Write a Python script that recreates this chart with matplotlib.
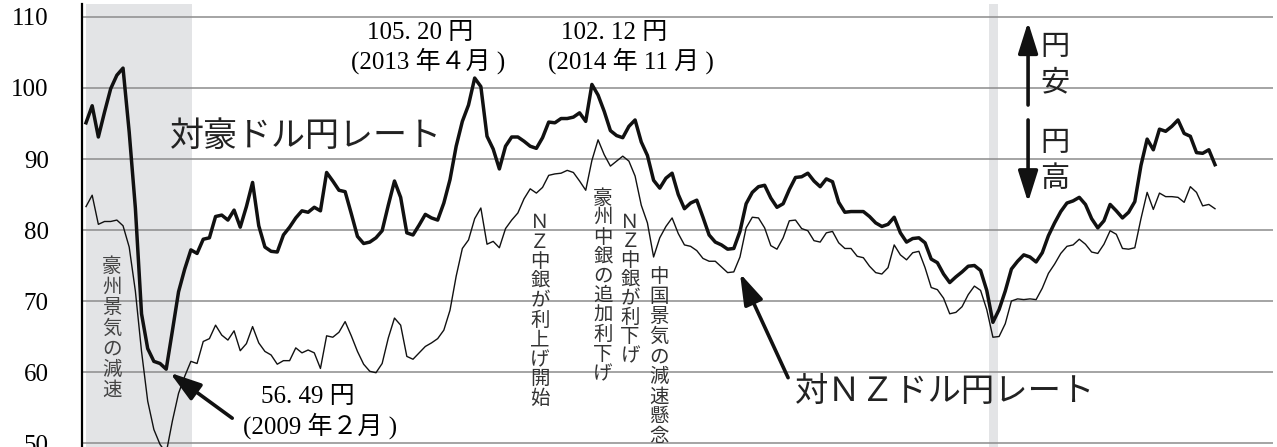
import matplotlib
matplotlib.use('Agg')
import matplotlib.pyplot as plt
from matplotlib.patches import ArrowStyle

plt.rcParams['font.family'] = ['Liberation Serif', 'Noto Sans CJK JP']

# monthly index: 0 = 2008-01 ... 183 = 2023-04
# AUD/JPY (thick line)
aud = [
    95.1, 97.5, 93.1, 96.6, 99.9, 101.8, 102.8, 93.8, 83.1, 68.2,
    63.3, 61.5, 61.2, 60.4, 65.8, 71.3, 74.5, 77.2, 76.7, 78.7,
    78.9, 81.9, 82.1, 81.4, 82.8, 80.4, 83.3, 86.7, 80.6, 77.6,
    77.0, 76.9, 79.3, 80.4, 81.7, 82.7, 82.5, 83.2, 82.7, 88.1,
    86.9, 85.6, 85.4, 82.3, 79.1, 78.1, 78.3, 78.9, 79.9, 83.5,
    86.9, 84.6, 79.6, 79.3, 80.7, 82.2, 81.7, 81.4, 83.8, 87.1,
    91.8, 95.3, 97.6, 101.4, 100.2, 93.2, 91.4, 88.6, 91.8, 93.1,
    93.1, 92.5, 91.8, 91.5, 93.0, 95.2, 95.1, 95.7, 95.7, 95.9,
    96.5, 95.3, 100.5, 99.0, 96.7, 94.0, 93.3, 93.0, 94.6, 95.5,
    92.4, 90.5, 87.0, 85.9, 87.3, 88.0, 85.0, 83.0, 83.8, 84.2,
    81.8, 79.3, 78.3, 77.9, 77.3, 77.4, 79.8, 83.7, 85.3, 86.1,
    86.3, 84.5, 83.2, 83.7, 85.7, 87.4, 87.5, 88.0, 86.9, 86.1,
    87.2, 86.8, 83.9, 82.5, 82.6, 82.6, 82.6, 81.9, 81.0, 80.5,
    80.8, 81.8, 79.6, 78.3, 78.8, 78.9, 78.2, 75.9, 75.4, 73.8,
    72.6, 73.4, 74.1, 74.9, 75.0, 74.3, 71.5, 67.0, 68.8, 71.4,
    74.5, 75.6, 76.5, 76.2, 75.5, 76.8, 79.2, 81.0, 82.6, 83.8,
    84.1, 84.6, 83.6, 81.6, 80.3, 81.3, 83.6, 82.7, 81.7, 82.5,
    84.0, 89.1, 92.8, 91.3, 94.2, 93.9, 94.6, 95.5, 93.6, 93.2,
    90.9, 90.8, 91.3, 89.2]

# NZD/JPY (thin line)
nzd = [
    83.3, 84.9, 80.8, 81.2, 81.2, 81.4, 80.6, 77.6, 71.4, 62.9,
    55.9, 51.9, 49.8, 48.6, 53.1, 57.0, 59.4, 61.5, 61.2, 64.3,
    64.7, 66.6, 65.2, 64.5, 65.8, 63.0, 64.0, 66.4, 64.1, 62.9,
    62.4, 61.1, 61.6, 61.6, 63.4, 62.7, 63.1, 62.7, 60.5, 65.1,
    64.9, 65.6, 67.1, 65.1, 62.9, 61.1, 60.1, 59.9, 61.2, 64.8,
    67.6, 66.6, 62.2, 61.8, 62.7, 63.6, 64.1, 64.7, 65.9, 68.7,
    73.5, 77.4, 78.6, 81.6, 83.1, 78.0, 78.4, 77.5, 80.2, 81.4,
    82.4, 84.4, 85.8, 85.2, 86.0, 87.7, 87.9, 88.0, 88.4, 88.1,
    86.9, 85.6, 89.8, 92.7, 90.6, 89.0, 89.7, 90.4, 89.7, 87.6,
    83.5, 81.0, 76.2, 78.9, 80.5, 81.7, 79.5, 77.9, 77.7, 77.1,
    76.0, 75.6, 75.6, 74.8, 74.0, 74.1, 76.2, 80.3, 81.8, 81.7,
    80.3, 77.8, 77.3, 78.9, 81.3, 81.4, 80.2, 79.9, 78.5, 78.3,
    79.6, 79.8, 78.2, 77.4, 77.4, 76.3, 76.1, 74.9, 74.0, 73.8,
    74.7, 77.9, 76.5, 75.8, 76.8, 77.0, 74.7, 71.9, 71.6, 70.4,
    68.2, 68.4, 69.2, 70.9, 72.1, 71.5, 68.8, 64.9, 65.0, 66.8,
    70.0, 70.3, 70.2, 70.3, 70.2, 71.8, 73.9, 75.2, 76.7, 77.7,
    77.9, 78.7, 78.0, 76.9, 76.7, 78.0, 79.9, 79.4, 77.4, 77.3,
    77.5, 81.6, 85.3, 82.9, 85.2, 84.7, 84.7, 84.6, 83.9, 86.1,
    85.3, 83.4, 83.6, 83.0]

months = list(range(len(aud)))
yticks = [50, 60, 70, 80, 90, 100, 110]

# shaded periods (month index)
shades = [(0, 17.2), (146.3, 147.9)]

jp = ['Noto Sans CJK JP']
serif = ['Liberation Serif', 'Noto Sans CJK JP']

fig = plt.figure(figsize=(12.77, 4.47), dpi=100)
ax = fig.add_axes([82 / 1277, 0, (1273 - 82) / 1277, 443 / 447])

for a, b in shades:
    ax.axvspan(a, b, color='#e3e4e6', lw=0, zorder=0)

ax.plot(months, nzd, color='#111111', lw=1.0, zorder=2)
ax.plot(months, aud, color='#111111', lw=2.5, zorder=3)

ax.set_xlim(-0.65, 192.4)
ax.set_ylim(49.44, 111.83)
ax.set_xticks([])
ax.set_yticks(yticks)
ax.set_yticklabels([str(t) for t in yticks])
ax.tick_params(axis='y', length=0, pad=24, labelsize=18)
ax.set_axisbelow(True)
ax.grid(axis='y', color='#8c8c8c', lw=1.1)
for s in ['top', 'right', 'bottom']:
    ax.spines[s].set_visible(False)
ax.spines['left'].set_linewidth(1.6)

# series labels
ax.text(13.6, 93.2, '対豪ドル円レート', family=jp, fontsize=24.5, color='#222222',
        ha='left', va='center', zorder=4)
ax.text(114.9, 57.3, '対ＮＺドル円レート', family=jp, fontsize=24, color='#222222',
        ha='left', va='center', zorder=4)

arrow = ArrowStyle('-|>', head_length=0.95, head_width=0.3)


def draw_arrow(tail, tip, lw=2.6):
    ax.annotate('', xy=tip, xytext=tail,
                arrowprops=dict(arrowstyle=arrow, mutation_scale=20, lw=lw,
                                color='#111111', shrinkA=0, shrinkB=0),
                zorder=5)


draw_arrow((113.8, 59.2), (106.0, 73.9))
draw_arrow((23.7, 53.5), (13.6, 59.9))
draw_arrow((152.7, 97.6), (152.7, 109.3))
draw_arrow((152.7, 95.5), (152.7, 83.9))

# value notes
ax.text(36.0, 56.5, '56. 49 円', family=serif, fontsize=18, ha='center', va='center')
ax.text(37.9, 52.4, '(2009 年２月 )', family=serif, fontsize=18, ha='center', va='center')
ax.text(54.1, 107.7, '105. 20 円', family=serif, fontsize=18, ha='center', va='center')
ax.text(55.4, 103.8, '(2013 年４月 )', family=serif, fontsize=18, ha='center', va='center')
ax.text(85.6, 107.7, '102. 12 円', family=serif, fontsize=18, ha='center', va='center')
ax.text(88.3, 103.8, '(2014 年 11 月 )', family=serif, fontsize=18, ha='center', va='center')


def vtext(x, y, text, step_px, size=14, color='#333333'):
    # one character per row, written top to bottom
    for i, ch in enumerate(text):
        ax.annotate(ch, xy=(x, y), xytext=(0, -i * step_px * 0.72),
                    textcoords='offset points', ha='center', va='center',
                    family=jp, fontsize=size, color=color, zorder=4)


vtext(4.2, 74.9, '豪州景気の減速', 20.7, color='#444444')
vtext(73.6, 81.0, 'ＮＺ中銀が利上げ開始', 19.5)
vtext(83.8, 84.5, '豪州中銀の追加利下げ', 19.5)
vtext(88.2, 81.0, 'ＮＺ中銀が利下げ', 19.0)
vtext(92.9, 73.4, '中国景気の減速懸念', 20.0)
vtext(157.0, 105.8, '円安', 35.5, size=21, color='#222222')
vtext(157.0, 92.2, '円高', 35.5, size=21, color='#222222')

fig.savefig('out.png', dpi=100)
